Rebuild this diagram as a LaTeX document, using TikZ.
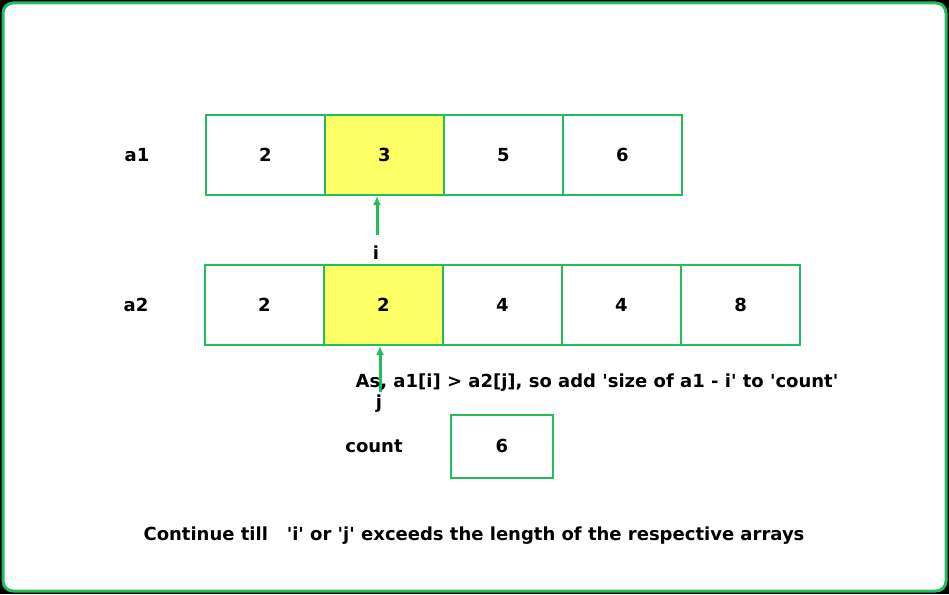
\documentclass[tikz,border=0pt]{standalone}
\usepackage{fontspec}
\setmainfont{DejaVu Sans}
\usetikzlibrary{positioning,arrows.meta}
\definecolor{cellgreen}{RGB}{34,190,90}
\definecolor{markyellow}{RGB}{255,255,102}

\begin{document}
\begin{tikzpicture}[x=1pt,y=-1pt,
    cell/.style={draw=cellgreen, line width=2pt, minimum width=119pt, minimum height=80pt, inner sep=0pt, font=\bfseries\fontsize{18}{21}\selectfont},
    lbl/.style={font=\bfseries\fontsize{18}{21}\selectfont},
    ptr/.style={-{Latex[length=9pt,width=8pt]}, draw=cellgreen, line width=3pt}]
% Frame
\fill[black] (0,0) rectangle (949,594);
\draw[cellgreen, fill=white, line width=3pt, rounded corners=10pt] (3,3) rectangle (946,591);
\useasboundingbox (0,0) rectangle (949,594);

% Array a1
\node[lbl] (a1) at (137,155) {a1};
\foreach \v [count=\k] in {2,3,5,6} {
    \node[cell, anchor=west] (p\k) at ({205+119*(\k-1)},155) {\v};
}
\node[cell, fill=markyellow] at (p2) {3};

% Array a2
\node[lbl] (a2) at (136,305) {a2};
\foreach \v [count=\k] in {2,2,4,4,8} {
    \node[cell, anchor=west] (q\k) at ({204+119*(\k-1)},305) {\v};
}
\node[cell, fill=markyellow] at (q2) {2};

% Pointers
\node[lbl] (i) at (376,253) {i};
\coordinate (itail) at (377,235);
\draw[ptr] (itail) -- (p2.south -| itail);
\node[lbl] (j) at (379,404) {j};
\coordinate (jtail) at (380,392);
\draw[ptr] (jtail) -- (q2.south -| jtail);

\node[lbl] (note) at (597,383) {As, a1[i] > a2[j], so add \textquotesingle size of a1 - i\textquotesingle{} to \textquotesingle count\textquotesingle};

% Count
\node[lbl] (countlbl) at (374,446) {count};
\node[cell, minimum width=102pt, minimum height=63pt] (count) at (502,446) {6};

\node[lbl] (bottom) at (474,536) {Continue till~~ \textquotesingle i\textquotesingle{} or \textquotesingle j\textquotesingle{} exceeds the length of the respective arrays};
\end{tikzpicture}
\end{document}
